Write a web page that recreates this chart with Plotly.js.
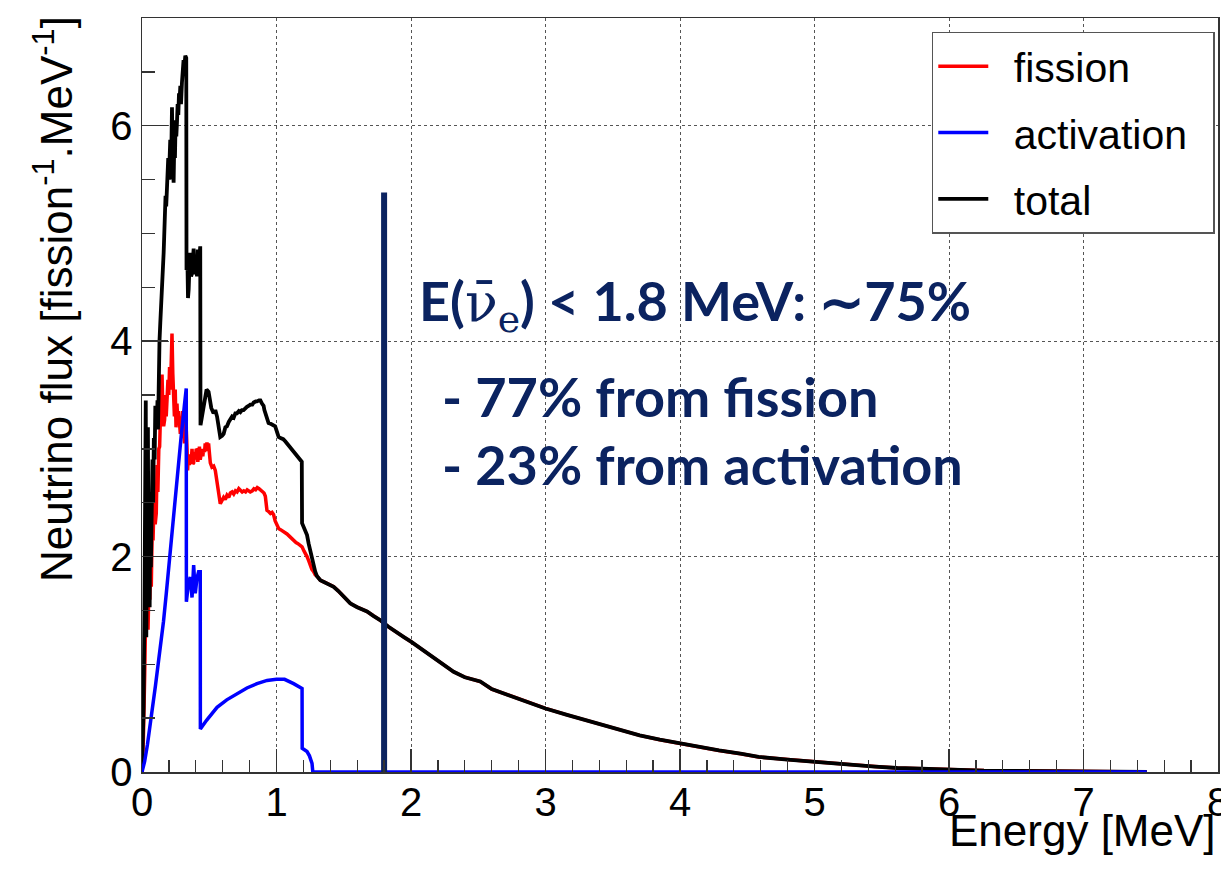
<!DOCTYPE html>
<html>
<head>
<meta charset="utf-8">
<script src="https://cdn.plot.ly/plotly-3.0.1.min.js"></script>
<style>html,body{margin:0;padding:0;background:#fff;}#chart{width:1221px;height:882px;}</style>
</head>
<body>
<div id="chart"></div>
<script>
// ---- data ----
const seriesNames = ["fission", "activation", "total"];
const seriesColors = ["#ff0000", "#0000ff", "#000000"];

const tailE = [1.3,1.326,1.36,1.40,1.425,1.46,1.5,1.549,1.6,1.65,1.673,1.72,1.77,1.83,1.896,1.95,2.0,2.08,2.168,2.24,2.317,2.4,2.515,2.6,2.664,2.76,2.862,3.0,3.16,3.3,3.41,3.55,3.7,3.85,4.0,4.15,4.29,4.45,4.585,4.8,5.0,5.15,5.32,5.45,5.615,5.8,6.0,6.13,6.26,6.5,6.705,6.75,7.0,7.3,7.47];
const tailFlux = [1.82,1.78,1.76,1.735,1.72,1.68,1.63,1.565,1.53,1.50,1.49,1.45,1.41,1.35,1.30,1.25,1.21,1.14,1.07,1.00,0.93,0.88,0.84,0.77,0.74,0.70,0.65,0.59,0.53,0.48,0.44,0.39,0.34,0.30,0.264,0.227,0.20,0.17,0.14,0.115,0.093,0.078,0.062,0.05,0.037,0.029,0.022,0.017,0.013,0.011,0.009,0.004,0.003,0.002,0.0];

const fissionE = [0,0.01,0.02,0.03,0.038,0.045,0.052,0.058,0.064,0.069,0.075,0.082,0.09,0.098,0.106,0.112,0.118,0.125,0.131,0.137,0.143,0.149,0.155,0.161,0.168,0.175,0.18,0.186,0.193,0.199,0.205,0.212,0.218,0.223,0.229,0.235,0.241,0.247,0.253,0.26,0.266,0.272,0.279,0.285,0.291,0.297,0.303,0.309,0.316,0.322,0.329,0.335,0.339,0.345,0.352,0.359,0.366,0.372,0.378,0.384,0.39,0.396,0.403,0.409,0.415,0.421,0.427,0.433,0.44,0.446,0.452,0.458,0.465,0.47,0.477,0.483,0.49,0.495,0.502,0.508,0.52,0.533,0.545,0.557,0.565,0.57,0.582,0.595,0.607,0.619,0.632,0.645,0.657,0.67,0.682,0.695,0.707,0.72,0.731,0.745,0.757,0.77,0.782,0.795,0.805,0.82,0.832,0.845,0.857,0.87,0.88,0.895,0.907,0.917,0.925,0.929,0.94,0.955,0.967,0.978,0.99,1.003,1.016,1.03,1.045,1.06,1.078,1.095,1.11,1.127,1.145,1.16,1.175,1.19,1.205,1.215,1.227,1.24,1.251,1.263,1.276,1.288];
const fissionFlux = [0,0.3,0.9,1.9,2.3,1.32,1.78,1.6,2.0,1.72,2.2,2.15,2.55,2.3,2.4,2.85,2.6,3.0,3.02,3.3,3.49,3.69,3.35,3.21,3.27,3.5,3.3,3.42,3.64,3.5,3.76,3.55,3.9,4.07,3.7,3.45,3.3,3.55,3.2,3.42,3.25,3.35,3.15,3.14,3.3,3.1,3.35,3.24,3.05,3.2,3.18,3.0,2.80,2.95,2.85,2.93,2.88,3.0,2.86,2.87,2.97,2.9,3.0,2.99,2.88,2.95,3.02,2.9,2.95,3.0,2.93,3.0,2.97,3.05,2.98,3.06,3.0,3.05,2.95,2.87,2.83,2.84,2.8,2.7,2.64,2.6,2.49,2.52,2.55,2.53,2.57,2.55,2.59,2.6,2.58,2.61,2.6,2.63,2.62,2.6,2.61,2.6,2.62,2.61,2.60,2.61,2.63,2.62,2.64,2.63,2.62,2.60,2.59,2.56,2.48,2.43,2.42,2.40,2.41,2.39,2.33,2.30,2.26,2.25,2.24,2.23,2.21,2.19,2.17,2.15,2.13,2.12,2.10,2.09,2.05,2.03,2.00,1.96,1.92,1.88,1.86,1.83];

const activationE = [0,0.02,0.04,0.06,0.08,0.1,0.12,0.14,0.16,0.18,0.205,0.23,0.26,0.29,0.315,0.329,0.330,0.345,0.359,0.372,0.384,0.396,0.409,0.421,0.433,0.434,0.48,0.558,0.63,0.706,0.78,0.855,0.93,1.0,1.06,1.127,1.19,1.191,1.227,1.245,1.264,1.27,1.3,7.47];
const activationFlux = [0,0.1,0.25,0.42,0.6,0.8,1.0,1.18,1.4,1.65,2.0,2.3,2.7,3.1,3.4,3.56,1.58,1.75,1.81,1.62,1.92,1.66,1.80,1.86,1.86,0.40,0.48,0.60,0.67,0.73,0.78,0.82,0.85,0.86,0.86,0.82,0.775,0.22,0.19,0.15,0.08,0,0,0];

const totalE = [0,0.005,0.012,0.018,0.024,0.028,0.032,0.036,0.04,0.044,0.048,0.052,0.057,0.062,0.066,0.07,0.074,0.078,0.083,0.088,0.094,0.099,0.105,0.11,0.115,0.119,0.124,0.13,0.136,0.142,0.148,0.155,0.161,0.165,0.17,0.175,0.18,0.186,0.19,0.195,0.2,0.205,0.21,0.215,0.219,0.223,0.227,0.231,0.235,0.24,0.245,0.25,0.255,0.26,0.265,0.27,0.275,0.28,0.285,0.29,0.297,0.303,0.309,0.315,0.322,0.329,0.331,0.337,0.342,0.347,0.353,0.359,0.365,0.372,0.378,0.384,0.39,0.396,0.403,0.409,0.415,0.421,0.427,0.433,0.435,0.445,0.455,0.465,0.47,0.48,0.495,0.505,0.515,0.532,0.545,0.558,0.57,0.582,0.595,0.607,0.62,0.632,0.645,0.657,0.67,0.682,0.694,0.706,0.72,0.731,0.743,0.755,0.77,0.78,0.795,0.805,0.82,0.83,0.845,0.855,0.87,0.88,0.892,0.904,0.91,0.917,0.929,0.941,0.96,0.978,0.99,1.003,1.016,1.03,1.05,1.065,1.078,1.095,1.11,1.127,1.145,1.16,1.177,1.188,1.19,1.2,1.214,1.227,1.239,1.251,1.264,1.276,1.288];
const totalFlux = [0,0.3,0.6,1.5,2.4,3.45,1.25,2.8,2.0,3.2,1.8,2.2,1.53,2.6,1.9,2.3,2.28,2.9,2.5,3.1,2.9,3.4,3.3,3.2,3.45,3.18,3.70,4.0,4.17,4.3,4.55,4.6,4.82,4.97,5.1,5.35,5.25,5.50,5.4,5.7,5.5,5.8,5.87,5.5,5.9,6.17,5.8,5.5,5.47,5.85,5.7,6.05,5.9,6.03,6.2,6.1,6.3,6.25,6.37,6.2,6.40,6.5,6.61,6.55,6.65,6.63,4.66,4.8,4.4,4.48,4.7,4.82,4.6,4.63,4.75,4.86,4.62,4.7,4.75,4.60,4.85,4.7,4.88,4.88,3.22,3.3,3.4,3.45,3.47,3.55,3.53,3.45,3.38,3.33,3.36,3.30,3.22,3.11,3.12,3.14,3.2,3.21,3.25,3.27,3.3,3.29,3.33,3.33,3.35,3.34,3.36,3.36,3.38,3.39,3.40,3.41,3.41,3.43,3.44,3.44,3.45,3.45,3.42,3.40,3.36,3.33,3.26,3.24,3.23,3.22,3.21,3.16,3.11,3.10,3.09,3.07,3.05,3.02,2.99,2.97,2.94,2.92,2.90,2.88,2.31,2.28,2.25,2.20,2.12,2.05,1.97,1.91,1.86];

const cutEnergy = [1.8, 1.8];
const cutFlux = [0, 5.38];

const xTickVals = [0,1,2,3,4,5,6,7,8];
const yTickVals = [0,2,4,6];

const xTitle = "Energy [MeV]";
const yTitle = "Neutrino flux [fission<sup>-1</sup>.MeV<sup>-1</sup>]";
const noteLines = [
  "E(<span style=\"font-family:'DejaVu Serif';font-weight:normal\">ν̄<sub>e</sub></span>) &lt; 1.8 MeV: ∼75%",
  "- 77% from fission",
  "- 23% from activation"
];

// ---- build ----
const fullFissionE = fissionE.concat(tailE);
const fullFissionF = fissionFlux.concat(tailFlux);
const fullTotalE = totalE.concat(tailE);
const fullTotalF = totalFlux.concat(tailFlux);
const pad = s => "\u2002" + s + "\u2002";

const axFont = {family: "Liberation Sans, Arial, sans-serif", size: 40, color: "#000"};

const traces = [
  {x: fullFissionE, y: fullFissionF, name: pad(seriesNames[0]), mode: "lines", legendgroup: "a", legendrank: 1,
   line: {color: seriesColors[0], width: 3.5}},
  {x: fullTotalE, y: fullTotalF, name: pad(seriesNames[2]), mode: "lines", legendgroup: "c", legendrank: 3,
   line: {color: seriesColors[2], width: 3.8}},
  {x: activationE, y: activationFlux, name: pad(seriesNames[1]), mode: "lines", legendgroup: "b", legendrank: 2,
   line: {color: seriesColors[1], width: 3.5}},
  {x: cutEnergy, y: cutFlux, mode: "lines", showlegend: false,
   line: {color: "#0b2360", width: 6}}
];

const noteFont = {family: "Lato, 'Open Sans', sans-serif", size: 54, color: "#0b2360", weight: 700};

const layout = {
  width: 1221, height: 882,
  margin: {l: 142, r: 3, t: 18, b: 110},
  paper_bgcolor: "#fff", plot_bgcolor: "#fff",
  showlegend: true,
  hovermode: false,
  legend: {
    x: 0.734, y: 0.982, xanchor: "left", yanchor: "top",
    bgcolor: "#fff", bordercolor: "#555", borderwidth: 1.5,
    font: {family: "Liberation Sans, Arial, sans-serif", size: 41, color: "#000"},
    tracegroupgap: 10, itemwidth: 50, traceorder: "grouped"
  },
  xaxis: {
    range: [0, 8], tickvals: xTickVals, ticks: "inside", ticklen: 23, tickwidth: 1.3, tickcolor: "#333",
    showline: true, linecolor: "#333", linewidth: 1.5, mirror: true,
    showgrid: true, gridcolor: "#555", griddash: "dot", gridwidth: 1, zeroline: false,
    tickfont: axFont, ticklabelstandoff: -6, ticklabeloverflow: "allow",
    minor: {dtick: 0.2, ticks: "inside", ticklen: 12, tickwidth: 1.3, tickcolor: "#333", showgrid: false}
  },
  yaxis: {
    range: [0, 7], tickvals: yTickVals, ticks: "inside", ticklen: 26, tickwidth: 1.3, tickcolor: "#333",
    showline: true, linecolor: "#333", linewidth: 1.5, mirror: true,
    showgrid: true, gridcolor: "#555", griddash: "dot", gridwidth: 1, zeroline: false,
    tickfont: axFont,
    minor: {dtick: 0.5, ticks: "inside", ticklen: 13, tickwidth: 1.3, tickcolor: "#333", showgrid: false}
  },
  annotations: [
    {text: xTitle, xref: "paper", yref: "paper", x: 1, y: 0, xanchor: "right", yanchor: "top",
     yshift: -32, showarrow: false, font: {family: "Liberation Sans, Arial, sans-serif", size: 44, color: "#000"}},
    {text: yTitle, xref: "paper", yref: "paper", x: 0, y: 1, xanchor: "center", yanchor: "top",
     xshift: -89, yshift: 4, textangle: -90, showarrow: false,
     font: {family: "Liberation Sans, Arial, sans-serif", size: 44, color: "#000"}},
    {text: noteLines[0], xref: "paper", yref: "paper", x: 0.2556, y: 0.6198, xanchor: "left", yanchor: "middle",
     showarrow: false, font: noteFont},
    {text: noteLines[1], xref: "paper", yref: "paper", x: 0.277, y: 0.4977, xanchor: "left", yanchor: "middle",
     showarrow: false, font: noteFont},
    {text: noteLines[2], xref: "paper", yref: "paper", x: 0.277, y: 0.4074, xanchor: "left", yanchor: "middle",
     showarrow: false, font: noteFont}
  ]
};

Plotly.newPlot("chart", traces, layout, {displayModeBar: false, staticPlot: true});
</script>
</body>
</html>
